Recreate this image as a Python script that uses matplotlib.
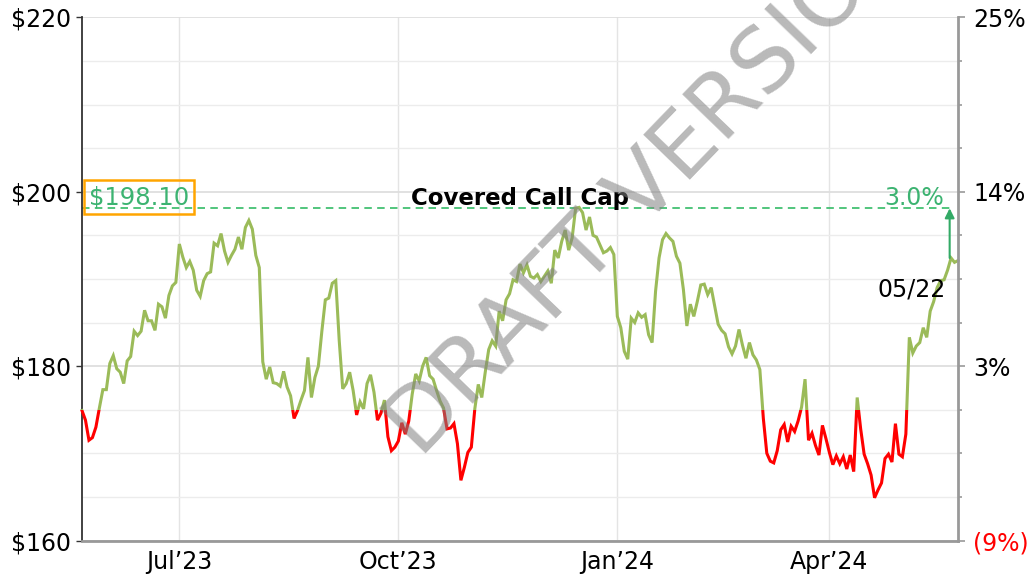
import numpy as np
import pandas as pd
import matplotlib
matplotlib.use("Agg")
import matplotlib.pyplot as plt
from matplotlib.patches import Rectangle

# trading days 05/22/2023 - 05/22/2024
holidays = ["2023-05-29", "2023-06-19", "2023-07-04", "2023-09-04", "2023-11-23",
            "2023-12-25", "2024-01-01", "2024-01-15", "2024-02-19", "2024-03-29"]
dates = pd.bdate_range("2023-05-22", "2024-05-22", freq="C", holidays=holidays)

prices = [
    174.9, 173.8, 171.5, 171.8, 173.0, 175.2, 177.3, 177.3, 180.3, 181.2,
    179.7, 179.3, 178.0, 180.6, 181.1, 184.0, 183.5, 184.0, 186.4, 185.2,
    185.2, 184.1, 187.1, 186.8, 185.5, 188.1, 189.2, 189.6, 194.0, 192.5,
    191.3, 192.0, 191.0, 188.7, 188.0, 189.8, 190.6, 190.8, 194.1, 193.8,
    195.2, 193.2, 191.9, 192.7, 193.4, 194.8, 193.4, 195.9, 196.7, 195.7,
    192.7, 191.3, 180.5, 178.5, 179.9, 178.1, 178.0, 177.7, 179.4, 177.6,
    176.6, 174.0, 174.9, 176.1, 177.2, 181.0, 176.4, 178.7, 180.0, 184.0,
    187.6, 187.8, 189.5, 189.8, 182.9, 177.4, 178.0, 179.3, 177.2, 174.4,
    175.9, 175.1, 178.0, 179.0, 177.0, 173.8, 174.6, 176.1, 171.9, 170.3,
    170.7, 171.4, 173.5, 172.2, 173.7, 176.8, 179.1, 178.3, 180.0, 181.0,
    178.9, 178.5, 177.2, 176.0, 175.2, 172.8, 172.9, 173.4, 171.1, 166.9,
    168.4, 170.1, 170.7, 175.1, 177.9, 176.4, 179.3, 181.9, 182.9, 182.3,
    186.3, 185.2, 187.6, 188.3, 189.9, 189.7, 191.7, 190.7, 191.6, 190.3,
    190.1, 190.5, 189.7, 190.3, 190.9, 189.5, 193.3, 192.4, 194.3, 195.6,
    193.3, 194.7, 198.1, 198.2, 197.6, 195.6, 197.1, 195.0, 194.8, 193.9,
    193.0, 193.2, 193.6, 192.8, 185.7, 184.4, 181.7, 180.8, 185.5, 185.0,
    186.1, 185.6, 185.9, 183.6, 182.7, 188.6, 192.4, 194.5, 195.2, 194.7,
    194.3, 192.6, 191.8, 188.8, 184.6, 187.1, 185.7, 187.4, 189.3, 189.4,
    188.2, 189.0, 186.9, 184.8, 184.1, 183.7, 182.2, 181.4, 182.3, 184.2,
    182.4, 180.9, 182.7, 181.3, 180.7, 179.6, 174.0, 170.0, 169.1, 168.9,
    170.3, 172.7, 173.3, 171.3, 173.1, 172.5, 173.7, 175.3, 178.5, 171.5,
    172.3, 170.9, 169.8, 173.2, 171.7, 170.1, 168.7, 169.7, 168.8, 169.6,
    168.2, 169.8, 167.9, 176.4, 172.8, 169.9, 168.8, 167.5, 164.9, 165.8,
    166.6, 169.4, 169.9, 169.0, 173.4, 169.9, 169.6, 172.2, 183.3, 181.5,
    182.3, 182.7, 184.4, 183.3, 186.3, 187.4, 189.0, 189.8, 189.9, 191.0,
    192.4, 191.9, 192.1,
]

cap_price = 198.10
cap_pct = "3.0%"
threshold = 175.0
last_label = "05/22"

y_ticks = [160, 180, 200, 220]
y_labels = ["$160", "$180", "$200", "$220"]
pct_labels = ["(9%)", "3%", "14%", "25%"]
tick_months = ["2023-07-01", "2023-10-01", "2024-01-01", "2024-04-01"]
x_labels = ["Jul\u201923", "Oct\u201923", "Jan\u201924", "Apr\u201924"]

GREEN_LINE = "#9bbb59"
RED = "#ff0000"
CAP_GREEN = "#3cb371"

plt.rcParams["font.family"] = ["DejaVu Sans"]

fig = plt.figure(figsize=(10.27, 5.75), dpi=100)
ax = fig.add_axes([82 / 1027, 1 - 540.5 / 575, 876 / 1027, 523.2 / 575])

x = np.arange(len(prices))
n = len(prices)
ax.set_xlim(0, n - 1)
ax.set_ylim(160, 220)

# price line, green above the threshold, red below
clip_up = Rectangle((-10, threshold), n + 20, 100, transform=ax.transData)
clip_dn = Rectangle((-10, threshold - 100), n + 20, 100, transform=ax.transData)
g, = ax.plot(x, prices, color=GREEN_LINE, lw=2.2, zorder=3, solid_joinstyle="miter")
r, = ax.plot(x, prices, color=RED, lw=2.2, zorder=3, solid_joinstyle="miter")
g.set_clip_path(clip_up)
r.set_clip_path(clip_dn)

# covered call cap
arrow_x = n - 3.4
ax.hlines(cap_price, 0, arrow_x, colors="#33bb66", linestyles=(0, (4.5, 3.2)), lw=1.2, zorder=2)
ax.annotate("", xy=(arrow_x, cap_price), xytext=(arrow_x, prices[-1] + 0.3),
            arrowprops=dict(arrowstyle="-|>", color="#33aa66", lw=1.5,
                            mutation_scale=14, shrinkA=0, shrinkB=0), zorder=4)
ax.annotate("Covered Call Cap", xy=(126, cap_price), xytext=(0, 2.5),
            textcoords="offset points", ha="center", va="baseline",
            fontsize=16.5, fontweight="bold", color="black", zorder=5)
ax.annotate(cap_pct, xy=(arrow_x, cap_price), xytext=(-4, 2.5),
            textcoords="offset points", ha="right", va="baseline",
            fontsize=17, color=CAP_GREEN, zorder=5)
ax.annotate(f"${cap_price:.2f}", xy=(0, cap_price), xytext=(5, 3),
            textcoords="offset points", ha="left", va="baseline",
            fontsize=17.5, color=CAP_GREEN, zorder=5,
            bbox=dict(boxstyle="square,pad=0.2", fc="none", ec="#ffa500", lw=1.8))
ax.annotate(last_label, xy=(n - 1, prices[-1]), xytext=(-9, -26),
            textcoords="offset points", ha="right", va="baseline",
            fontsize=17, color="black", zorder=5)

# axes styling
tick_pos = [dates.searchsorted(pd.Timestamp(m)) for m in tick_months]
ax.set_xticks(tick_pos, x_labels, fontsize=17)
ax.tick_params(axis="x", length=0, pad=7)
ax.set_yticks(y_ticks, y_labels, fontsize=17)
ax.set_yticks(np.arange(160, 221, 5), minor=True)
ax.tick_params(axis="y", which="major", length=4, width=1, color="#333333", pad=4)
ax.tick_params(axis="y", which="minor", length=0)
ax.grid(axis="y", which="major", color="#dedede", lw=1.3)
ax.grid(axis="y", which="minor", color="#ececec", lw=1.0)
ax.grid(axis="x", color="#e4e4e4", lw=1.0)
ax.set_axisbelow(True)

ax2 = ax.twinx()
ax2.set_ylim(160, 220)
ax2.set_yticks(y_ticks, pct_labels, fontsize=17)
ax2.set_yticks(np.arange(160, 221, 5), minor=True)
ax2.tick_params(axis="y", which="major", length=5, width=1.2, color="#999999", pad=6)
ax2.tick_params(axis="y", which="minor", length=3, width=1.2, color="#999999")
ax2.get_yticklabels()[0].set_color(RED)

for a in (ax, ax2):
    a.spines["top"].set_visible(False)
ax.spines["right"].set_visible(False)
ax2.spines["left"].set_visible(False)
ax2.spines["bottom"].set_visible(False)
ax.spines["left"].set_color("#333333")
ax.spines["left"].set_linewidth(1.3)
ax.spines["bottom"].set_color("#999999")
ax.spines["bottom"].set_linewidth(2)
ax2.spines["right"].set_color("#999999")
ax2.spines["right"].set_linewidth(2)

# watermark, runs off the top edge like the original
fig.text(0.635, 0.68, "DRAFT VERSION", rotation=46, rotation_mode="anchor",
         ha="center", va="center", fontsize=64, color="gray", alpha=0.55, zorder=10)

fig.savefig("out.png", dpi=100)
